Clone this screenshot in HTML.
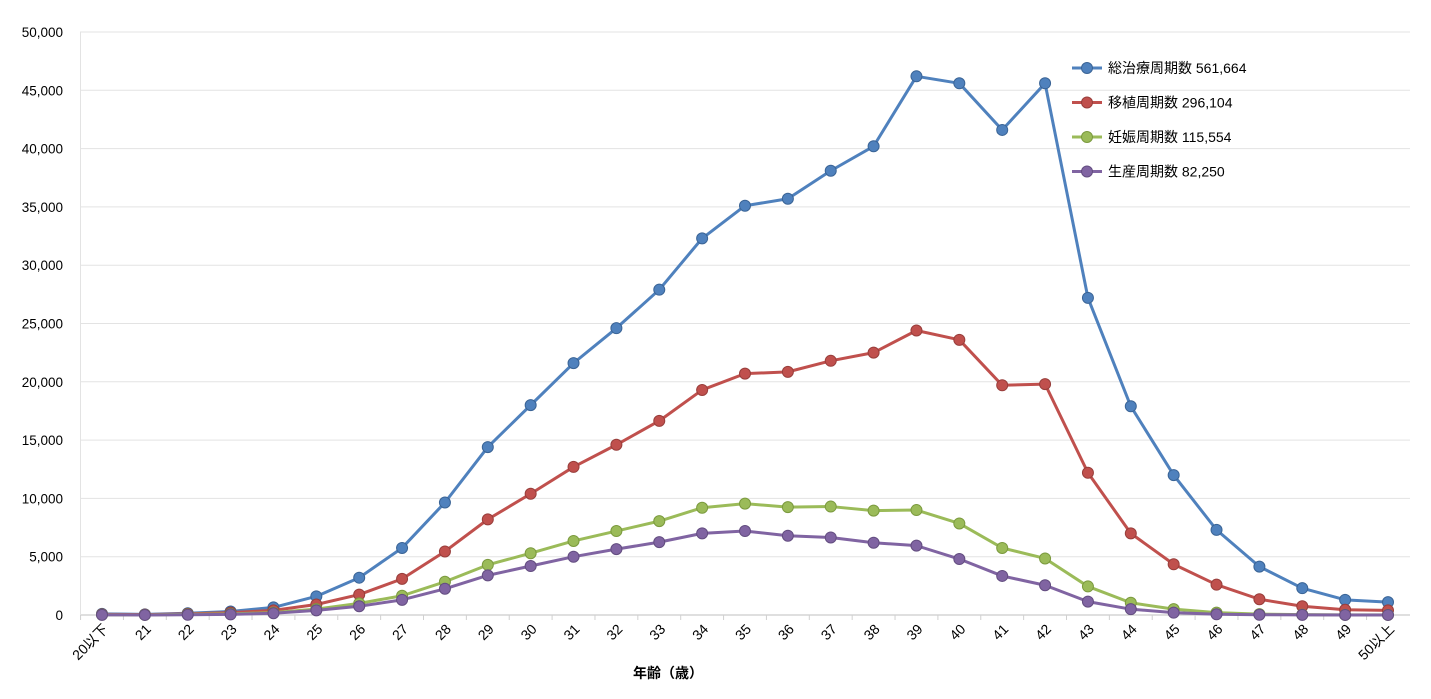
<!DOCTYPE html>
<html><head><meta charset="utf-8"><style>
body{margin:0;background:#fff;}
svg{display:block;font-family:"Liberation Sans","Noto Sans CJK JP",sans-serif;}
</style></head><body>
<svg id="c" width="1431" height="699" xmlns="http://www.w3.org/2000/svg"></svg>
<script>
const s=document.getElementById('c');
let h='';
const x0=102,dx=(1388-102)/30,y0=615,k=(615-32)/50000;
const X=i=>x0+i*dx, Y=v=>y0-v*k;
for(let v=0;v<=50000;v+=5000){
 const y=Y(v);
 h+=`<line x1="80" x2="1410" y1="${y}" y2="${y}" stroke="${v==0?'#bfbfbf':'#e3e3e3'}" stroke-width="1"/>`;
 h+=`<text x="63" y="${y+5}" font-size="13.5" text-anchor="end" fill="#000">${v.toLocaleString('en-US')}</text>`;
}
h+=`<line x1="80.5" x2="80.5" y1="32" y2="615" stroke="#e3e3e3"/>`;
for(let i=0;i<=30;i++){
 const x=X(i);
 h+=`<line x1="${x-dx/2}" x2="${x-dx/2}" y1="615" y2="620" stroke="#d0d0d0"/>`;
 const lab=i==0?'20以下':i==30?'50以上':String(20+i);
 h+=`<text transform="translate(${x+7},${630}) rotate(-45)" font-size="14" text-anchor="end" fill="#000">${lab}</text>`;
}
h+=`<text x="668" y="678" font-size="14" font-weight="bold" text-anchor="middle">年齢（歳）</text>`;
const S=[
 ['#4F81BD','#3a6496','総治療周期数 561,664',[100,50,150,300,650,1600,3200,5750,9650,14400,18000,21600,24600,27900,32300,35100,35700,38100,40200,46200,45600,41600,45600,27200,17900,12000,7300,4150,2300,1300,1100]],
 ['#C0504D','#983e3b','移植周期数 296,104',[50,30,100,200,400,900,1750,3100,5450,8200,10400,12700,14600,16650,19300,20700,20850,21800,22500,24400,23600,19700,19800,12200,7000,4350,2600,1350,750,450,400]],
 ['#9BBB59','#7b9a3e','妊娠周期数 115,554',[20,10,50,100,200,500,1000,1650,2850,4300,5300,6350,7200,8050,9200,9550,9250,9300,8950,9000,7850,5750,4850,2450,1050,500,200,80,30,10,10]],
 ['#8064A2','#634d80','生産周期数 82,250',[10,5,20,50,150,400,750,1300,2250,3400,4200,5000,5650,6250,7000,7200,6800,6650,6200,5950,4800,3350,2550,1150,500,200,60,20,10,5,5]]
];
S.forEach(([c,d,n,a])=>{
 h+=`<polyline fill="none" stroke="${c}" stroke-width="3" stroke-linejoin="round" points="${a.map((v,i)=>X(i)+','+Y(v)).join(' ')}"/>`;
 a.forEach((v,i)=>h+=`<circle cx="${X(i)}" cy="${Y(v)}" r="5.5" fill="${c}" stroke="${d}" stroke-width="1"/>`);
});
S.forEach(([c,d,n],j)=>{
 const y=68+j*34.5;
 h+=`<line x1="1072" x2="1102" y1="${y}" y2="${y}" stroke="${c}" stroke-width="3"/><circle cx="1087" cy="${y}" r="5.5" fill="${c}" stroke="${d}"/>`;
 h+=`<text x="1108" y="${y+5}" font-size="14">${n}</text>`;
});
s.innerHTML=h;
</script>
</body></html>
